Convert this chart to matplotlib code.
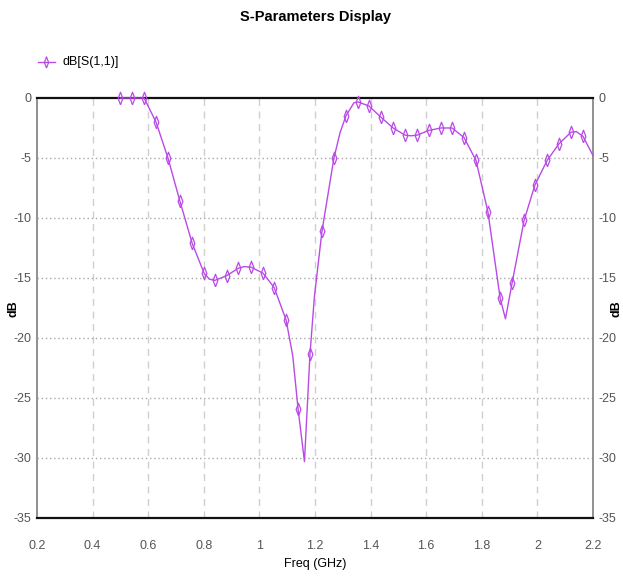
import matplotlib
matplotlib.use("Agg")
import matplotlib.pyplot as plt

# Marker samples (GHz, dB)
marker_freq = [0.500, 0.542, 0.585, 0.628, 0.671, 0.714, 0.758, 0.801, 0.840, 0.883,
               0.923, 0.970, 1.013, 1.053, 1.096, 1.139, 1.182, 1.225, 1.268, 1.311,
               1.355, 1.394, 1.437, 1.481, 1.524, 1.567, 1.610, 1.653, 1.693, 1.736,
               1.779, 1.822, 1.866, 1.909, 1.952, 1.991, 2.035, 2.078, 2.121, 2.164]
marker_db = [0.0, 0.0, 0.0, -2.0, -5.0, -8.6, -12.1, -14.6, -15.2, -14.8,
             -14.2, -14.1, -14.6, -15.8, -18.5, -25.9, -21.3, -11.1, -5.0, -1.5,
             -0.33, -0.67, -1.6, -2.5, -3.1, -3.1, -2.7, -2.5, -2.5, -3.3,
             -5.2, -9.5, -16.7, -15.4, -10.2, -7.25, -5.2, -3.8, -2.85, -3.2]

# Extra curve points read between markers (dips, peaks, end)
extra_freq = [0.820, 0.945, 1.120, 1.162, 1.198, 1.290, 1.340, 1.545, 1.885, 2.140, 2.200]
extra_db = [-15.1, -14.05, -21.5, -30.3, -16.5, -2.9, -0.4, -3.15, -18.4, -2.8, -4.8]

curve = sorted(zip(marker_freq + extra_freq, marker_db + extra_db))
curve_freq = [c[0] for c in curve]
curve_db = [c[1] for c in curve]

x_ticks = [0.2, 0.4, 0.6, 0.8, 1.0, 1.2, 1.4, 1.6, 1.8, 2.0, 2.2]
x_labels = ["0.2", "0.4", "0.6", "0.8", "1", "1.2", "1.4", "1.6", "1.8", "2", "2.2"]
y_ticks = [0, -5, -10, -15, -20, -25, -30, -35]

plt.rcParams['font.family'] = ['Liberation Sans', 'DejaVu Sans']

line_color = '#b94ae6'
# narrow diamond marker like the reference
thin_diamond = [(0, -1), (0.38, 0), (0, 1), (-0.38, 0), (0, -1)]

fig = plt.figure(figsize=(6.23, 5.76), dpi=100)
ax = fig.add_axes([0.0594, 0.1007, 0.8925, 0.7292])

# Grid: dashed verticals, dotted horizontals
for xv in x_ticks[1:-1]:
    ax.axvline(xv, color='#cfcfcf', lw=1.0, dashes=(5, 4), zorder=0)
for yv in y_ticks[1:-1]:
    ax.axhline(yv, color='#a8a8a8', lw=1.0, dashes=(1, 2), zorder=0)

ax.plot(curve_freq, curve_db, color=line_color, lw=1.0, clip_on=False, zorder=3)
ax.plot(marker_freq, marker_db, linestyle='none', marker=thin_diamond, ms=9, mew=0.9,
        mfc='none', mec=line_color, clip_on=False, zorder=4)

ax.set_xlim(0.2, 2.2)
ax.set_ylim(-35, 0)
ax.set_xticks(x_ticks)
ax.set_xticklabels(x_labels)
ax.set_yticks(y_ticks)
ax.set_yticklabels([str(v) for v in y_ticks])
ax.tick_params(axis='both', length=0, labelsize=9, colors='#555555')
ax.tick_params(axis='x', pad=16)
ax.tick_params(axis='y', pad=4, labelright=True)

for side in ['top', 'bottom']:
    ax.spines[side].set_color('#111111')
    ax.spines[side].set_linewidth(1.6)
for side in ['left', 'right']:
    ax.spines[side].set_color('#888888')
    ax.spines[side].set_linewidth(1.3)

ax.set_xlabel('Freq (GHz)', fontsize=9, labelpad=4)

fig.text(0.021, 0.465, 'dB', rotation=90, fontsize=9, fontweight='bold', ha='center', va='center')
fig.text(0.990, 0.465, 'dB', rotation=90, fontsize=9, fontweight='bold', ha='center', va='center')

fig.suptitle('S-Parameters Display', x=0.506, y=0.982, fontsize=10.5, fontweight='bold')

# Legend entry drawn by hand in figure coordinates
fig.lines.append(plt.Line2D([0.061, 0.088], [0.892, 0.892], color=line_color, lw=1.0,
                            transform=fig.transFigure))
fig.lines.append(plt.Line2D([0.0745], [0.892], linestyle='none', marker=thin_diamond, ms=8,
                            mew=0.9, mfc='none', mec=line_color, transform=fig.transFigure))
fig.text(0.101, 0.892, 'dB[S(1,1)]', fontsize=9, va='center', ha='left')

fig.savefig('out.png', dpi=100)
